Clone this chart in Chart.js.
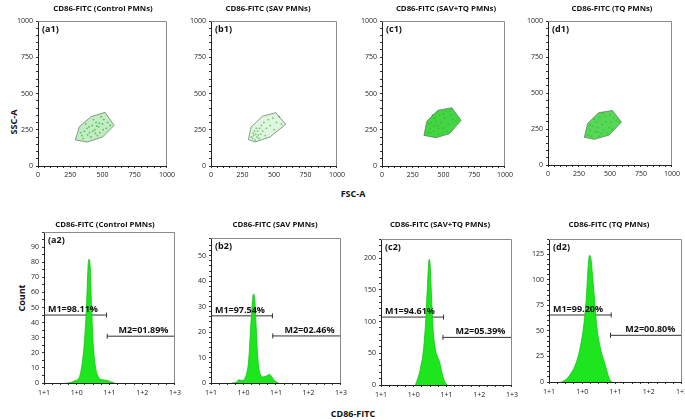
<!DOCTYPE html>
<html>
<head>
<meta charset="utf-8">
<script src="https://cdn.jsdelivr.net/npm/chart.js@4.4.0/dist/chart.umd.min.js"></script>
<style>
body { margin: 0; width: 685px; height: 420px; overflow: hidden; background: #fff; position: relative; font-family: "Open Sans", sans-serif; }
.lbl { position: absolute; font-weight: bold; font-size: 9px; color: #111; white-space: nowrap; transform: translate(-50%, -50%); }
.rot { transform: translate(-50%, -50%) rotate(-90deg); }
</style>
</head>
<body>
<div class="lbl rot" style="left:13px; top:122px;">SSC-A</div>
<div class="lbl" style="left:353px; top:193px;">FSC-A</div>
<div class="lbl rot" style="left:21px; top:298px;">Count</div>
<div class="lbl" style="left:353px; top:413px;">CD86-FITC</div>
<script>
// titles of the four groups
var titles = ['CD86-FITC (Control PMNs)', 'CD86-FITC (SAV PMNs)', 'CD86-FITC (SAV+TQ PMNs)', 'CD86-FITC (TQ PMNs)'];
var tagsTop = ['(a1)', '(b1)', '(c1)', '(d1)'];
var tagsBottom = ['(a2)', '(b2)', '(c2)', '(d2)'];

// FSC-A / SSC-A gates (polygon corners)
var gateA1 = [[290,180],[320,270],[410,340],[520,370],[590,280],[500,200],[380,165],[290,180]];
var gateB1 = [[297,182],[318,269],[409,343],[514,368],[593,287],[467,200],[349,166],[297,182]];
var gateC1 = [[341,211],[365,310],[454,384],[568,402],[643,315],[549,223],[440,195],[341,211]];
var gateD1 = [[293,192],[320,289],[408,363],[520,379],[592,298],[493,208],[373,178],[293,192]];

// events inside the gates
var cellsA1 = [[340,210],[360,240],[380,260],[400,230],[420,280],[440,250],[450,300],[470,270],[480,230],[500,290],[510,320],[530,260],[460,210],[410,200],[350,190],[370,290],[430,320],[490,340],[540,300],[560,280],[395,270],[455,275],[475,295],[425,240],[445,225],[505,250],[330,230],[385,215]];
var cellsB1 = [[320,200],[330,190],[340,210],[350,180],[355,220],[365,200],[370,240],[380,190],[385,260],[395,220],[400,280],[410,240],[420,300],[430,210],[440,260],[455,320],[470,280],[490,330],[500,250],[520,300],[540,340],[560,290],[345,240],[360,260],[375,215],[335,225]];
var cellsC1 = [[370,230],[390,260],[400,300],[420,240],[430,330],[450,280],[460,220],[470,350],[480,300],[500,260],[510,330],[520,380],[540,290],[560,350],[580,320],[600,310],[380,290],[410,350],[440,310],[490,230],[530,240],[550,380],[460,260],[500,360],[420,280],[390,230]];
var cellsD1 = [[320,210],[340,240],[350,200],[360,270],[380,230],[390,300],[400,260],[410,200],[420,330],[440,280],[450,240],[460,340],[470,300],[490,260],[500,350],[510,300],[530,330],[550,310],[570,300],[340,280],[370,320],[430,220],[480,220],[520,250],[440,360],[400,230]];

// CD86-FITC histograms (log decade, count)
var histA2 = [[-0.3,0],[-0.16,0.5],[-0.06,1.5],[0.01,2],[0.09,4.5],[0.17,13.6],[0.24,29],[0.30,52],[0.35,79],[0.38,82],[0.41,77],[0.45,52],[0.50,27],[0.57,11],[0.65,4.5],[0.76,2.3],[0.91,1.8],[1.03,0.9],[1.16,0]];
var histB2 = [[-0.36,0],[-0.2,0.4],[-0.15,1.3],[-0.05,1],[0.08,3],[0.16,9],[0.21,19.4],[0.26,30],[0.31,35],[0.35,32.5],[0.39,22],[0.44,10],[0.51,3.7],[0.62,2.4],[0.72,2.9],[0.80,3.4],[0.87,2.4],[0.97,0.7],[1.08,0]];
var histC2 = [[0.05,0],[0.12,10],[0.20,25],[0.30,57],[0.37,105],[0.42,158],[0.47,198],[0.50,190],[0.54,143],[0.59,89],[0.66,57],[0.73,44],[0.79,36],[0.86,20],[0.93,7],[1.02,0]];
var histD2 = [[-0.63,0],[-0.48,2.7],[-0.33,9],[-0.18,19],[-0.06,34],[0.04,54],[0.12,81],[0.18,114],[0.22,124],[0.26,121],[0.30,108],[0.37,81],[0.44,54],[0.54,34],[0.65,21],[0.74,11],[0.82,2.7],[0.90,0]];

// M1 / M2 markers
var m1Text = ['M1=98.11%', 'M1=97.54%', 'M1=94.61%', 'M1=99.20%'];
var m2Text = ['M2=01.89%', 'M2=02.46%', 'M2=05.39%', 'M2=00.80%'];
var m1Level = [45, 26.4, 107, 65.6];
var m2Level = [31, 18.5, 75, 45.7];
var m1End = [0.91, 0.89, 0.91, 0.87];
var m2Start = [0.93, 0.90, 0.89, 0.85];

// axes
var scatterTicks = [0, 250, 500, 750, 1000];
var histTickLabels = ['1+1', '1+0', '1+1', '1+2', '1+3'];
var histMax = [100, 57, 230, 140];
var histMajor = [10, 10, 50, 25];
var histMinor = [5, 2, 10, 5];

var YW = 24, XH = 15, PR = 10;
var FONT = '"Open Sans", sans-serif';

function pts(arr) {
    return arr.map(function (p) { return { x: p[0], y: p[1] }; });
}

function panelPlugin(info) {
    return {
        id: 'panel',
        beforeDatasetDraw: function (chart, args) {
            var ds = chart.data.datasets[args.index];
            if (!ds.polyFill) return;
            var ctx = chart.ctx;
            var els = args.meta.data;
            ctx.save();
            ctx.beginPath();
            els.forEach(function (p, i) {
                if (i == 0) ctx.moveTo(p.x, p.y); else ctx.lineTo(p.x, p.y);
            });
            ctx.closePath();
            ctx.fillStyle = ds.polyFill;
            ctx.fill();
            ctx.restore();
        },
        afterDraw: function (chart) {
            var ctx = chart.ctx;
            var a = chart.chartArea;
            ctx.save();
            // top + right frame
            ctx.strokeStyle = '#8a8a8a';
            ctx.lineWidth = 1;
            ctx.beginPath();
            ctx.moveTo(a.left, a.top + 0.5);
            ctx.lineTo(a.right - 0.5, a.top + 0.5);
            ctx.lineTo(a.right - 0.5, a.bottom);
            ctx.stroke();
            // title
            ctx.fillStyle = '#111';
            ctx.font = 'bold 7.8px ' + FONT;
            ctx.textAlign = 'center';
            ctx.textBaseline = 'middle';
            ctx.fillText(info.title, info.titleX, 7);
            // tag
            ctx.font = 'bold 9px ' + FONT;
            ctx.textAlign = 'left';
            ctx.textBaseline = 'top';
            ctx.fillText(info.tag, a.left + 4, a.top + 4);
            // marker labels
            if (info.m1) {
                var xs = chart.scales.x, ys = chart.scales.y;
                ctx.font = 'bold 9px ' + FONT;
                ctx.textBaseline = 'alphabetic';
                ctx.textAlign = 'left';
                ctx.fillText(info.m1, xs.getPixelForValue(-0.88), ys.getPixelForValue(info.m1y) - 3);
                ctx.textAlign = 'right';
                ctx.fillText(info.m2, xs.getPixelForValue(2.8), ys.getPixelForValue(info.m2y) - 3);
            }
            ctx.restore();
        }
    };
}

function makeChart(box, titleY, info, datasets, scales) {
    var top = titleY - 7;
    var left = box[0] - YW;
    var w = box[1] - left + PR;
    var h = box[3] - top + XH;
    var cv = document.createElement('canvas');
    cv.width = w;
    cv.height = h;
    cv.style.position = 'absolute';
    cv.style.left = left + 'px';
    cv.style.top = top + 'px';
    document.body.appendChild(cv);
    info.titleX = info.titleX - left;
    scales.x.afterFit = function (s) { s.height = XH; };
    scales.y.afterFit = function (s) { s.width = YW; };
    return new Chart(cv, {
        type: 'line',
        data: { datasets: datasets },
        options: {
            responsive: false,
            animation: false,
            devicePixelRatio: 1,
            layout: { padding: { top: box[2] - top, right: PR, left: 0, bottom: 0 } },
            plugins: { legend: { display: false }, tooltip: { enabled: false } },
            scales: scales
        },
        plugins: [panelPlugin(info)]
    });
}

function axisStyle() {
    return {
        grid: { drawOnChartArea: false, drawTicks: true, tickLength: 2, color: '#333' },
        border: { display: true, color: '#222', width: 1 }
    };
}

function scatterScales() {
    var x = Object.assign(axisStyle(), {
        type: 'linear', min: 0, max: 1000,
        ticks: {
            stepSize: 50, autoSkip: false, maxRotation: 0, padding: 3,
            color: '#222', font: { size: 7, family: FONT },
            callback: function (v) { return scatterTicks.indexOf(v) >= 0 ? v : ''; }
        }
    });
    var y = Object.assign(axisStyle(), {
        type: 'linear', min: 0, max: 1000,
        ticks: {
            stepSize: 50, autoSkip: false, padding: 3,
            color: '#222', font: { size: 7, family: FONT },
            callback: function (v) { return scatterTicks.indexOf(v) >= 0 ? v : ''; }
        }
    });
    return { x: x, y: y };
}

function histScales(i) {
    var x = Object.assign(axisStyle(), {
        type: 'linear', min: -1, max: 3,
        ticks: {
            stepSize: 0.25, autoSkip: false, maxRotation: 0, padding: 4,
            color: '#222', font: { size: 7, family: FONT },
            callback: function (v) { return Number.isInteger(v) ? histTickLabels[v + 1] : ''; }
        }
    });
    var y = Object.assign(axisStyle(), {
        type: 'linear', min: 0, max: histMax[i],
        ticks: {
            stepSize: histMinor[i], autoSkip: false, padding: 3,
            color: '#222', font: { size: 7, family: FONT },
            callback: function (v) { return (v % histMajor[i] === 0 && v <= histMax[i] - histMajor[i] / 2) ? v : ''; }
        }
    });
    return { x: x, y: y };
}

var topBoxes = [[38,168,21,166],[211,338,21,166],[382,506,21,166],[548,673,21,165]];
var topTitleX = [103, 268, 446, 612];
var gates = [gateA1, gateB1, gateC1, gateD1];
var cells = [cellsA1, cellsB1, cellsC1, cellsD1];
var gateFill = ['rgba(120,215,120,0.45)', 'rgba(165,230,165,0.35)', 'rgba(35,205,35,0.85)', 'rgba(45,205,45,0.8)'];
var cellColor = ['rgba(20,150,20,0.8)', 'rgba(40,170,40,0.8)', 'rgba(10,120,10,0.7)', 'rgba(10,120,10,0.7)'];

for (var i = 0; i < 4; i++) {
    makeChart(topBoxes[i], 9, { title: titles[i], tag: tagsTop[i], titleX: topTitleX[i] }, [
        {
            data: pts(gates[i]), polyFill: gateFill[i],
            borderColor: 'rgba(90,120,90,0.9)', borderWidth: 0.8, pointRadius: 0, fill: false
        },
        {
            data: pts(cells[i]), showLine: false,
            pointRadius: 0.9, pointBorderWidth: 0, pointBackgroundColor: cellColor[i]
        }
    ], scatterScales());
}

var bottomBoxes = [[44,175,232,383],[211,341,238,383],[381,512,239,385],[549,682,239,382]];
var bottomTitleX = [105, 275, 440, 609];
var hists = [histA2, histB2, histC2, histD2];

for (var j = 0; j < 4; j++) {
    makeChart(bottomBoxes[j], 225, {
        title: titles[j], tag: tagsBottom[j], titleX: bottomTitleX[j],
        m1: m1Text[j], m2: m2Text[j], m1y: m1Level[j], m2y: m2Level[j]
    }, [
        {
            data: pts(hists[j]), fill: 'origin',
            backgroundColor: '#1ee61e', borderColor: '#12c412', borderWidth: 0.8,
            pointRadius: 0, cubicInterpolationMode: 'monotone'
        },
        {
            data: [{ x: -1, y: m1Level[j] }, { x: m1End[j], y: m1Level[j] }],
            borderColor: '#333', borderWidth: 1, fill: false,
            pointRadius: [0, 2.5], pointStyle: 'line', rotation: 90, pointBorderColor: '#333', pointBorderWidth: 1
        },
        {
            data: [{ x: m2Start[j], y: m2Level[j] }, { x: 3, y: m2Level[j] }],
            borderColor: '#333', borderWidth: 1, fill: false,
            pointRadius: [2.5, 0], pointStyle: 'line', rotation: 90, pointBorderColor: '#333', pointBorderWidth: 1
        }
    ], histScales(j));
}
</script>
</body>
</html>
